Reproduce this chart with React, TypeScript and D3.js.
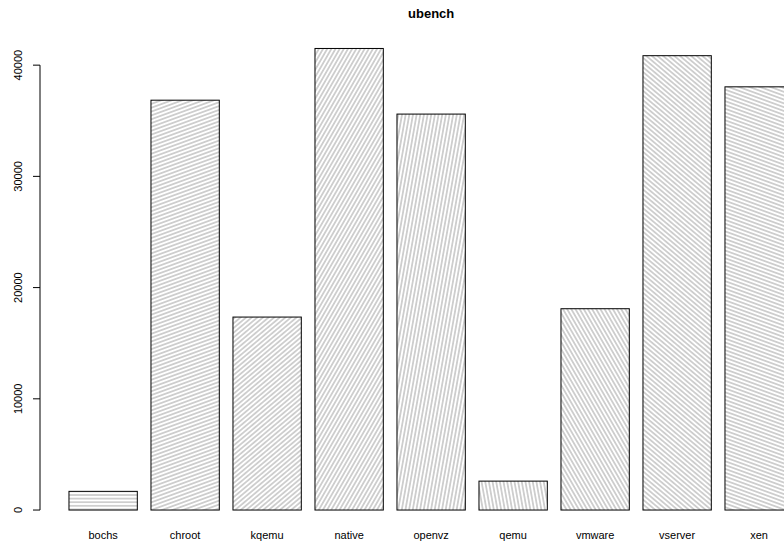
import React from "react";
import * as d3 from "d3";

const categories = ["bochs", "chroot", "kqemu", "native", "openvz", "qemu", "vmware", "vserver", "xen"];
const values = [1680, 36850, 17350, 41500, 35600, 2600, 18100, 40850, 38050];
const angles = [0, 20, 40, 60, 80, 100, 120, 140, 160];
const yTicks = [0, 10000, 20000, 30000, 40000];
const title = "ubench";

const W = 784;
const H = 545;

export default function App() {
  const n = categories.length;
  const space = 0.2;
  const xmin = space;
  const xmax = n * (1 + space);
  const xr = xmax - xmin;
  const ymax = d3.max(values) as number;
  const left = 40;
  const top = 30;
  const bottom = 528.5;
  const xu0 = xmin - 0.04 * xr;
  const xu1 = xmax + 0.04 * xr;
  const pxPerUnit = 82 / 1.2;
  const right = left + (xu1 - xu0) * pxPerUnit;
  const x = d3.scaleLinear().domain([xu0, xu1]).range([left, right]);
  const y = d3.scaleLinear().domain([-0.04 * ymax, ymax * 1.04]).range([bottom, top]);
  const spacing = 3.6;
  const font = "'Liberation Sans', Arial, Helvetica, sans-serif";

  return (
    <svg width={W} height={H} style={{ position: "absolute", left: 0, top: 0, background: "#fff" }}>
      <defs>
        {angles.map((a, i) => (
          <pattern
            key={i}
            id={`hatch${i}`}
            patternUnits="userSpaceOnUse"
            width={20}
            height={spacing}
            patternTransform={`rotate(${-a})`}
          >
            <line x1={-5} x2={25} y1={spacing / 2} y2={spacing / 2} stroke="#8a8a8a" strokeWidth={0.8} />
          </pattern>
        ))}
      </defs>
      <text x={(left + right) / 2} y={18} textAnchor="middle" fontFamily={font} fontWeight="bold" fontSize={13}>
        {title}
      </text>
      {values.map((v, i) => {
        const l = space + i * (1 + space);
        const r = l + 1;
        const x0 = x(l);
        const x1 = x(r);
        const y0 = y(0);
        const y1 = y(v);
        return (
          <g key={i}>
            <rect x={x0} y={y1} width={x1 - x0} height={y0 - y1} fill="#fff" />
            <rect x={x0} y={y1} width={x1 - x0} height={y0 - y1} fill={`url(#hatch${i})`} stroke="#000" strokeWidth={1} />
            <text x={(x0 + x1) / 2} y={539} textAnchor="middle" fontFamily={font} fontSize={11}>
              {categories[i]}
            </text>
          </g>
        );
      })}
      <line x1={left} x2={left} y1={y(0)} y2={y(40000)} stroke="#000" strokeWidth={1} />
      {yTicks.map((t) => (
        <g key={t}>
          <line x1={left - 7} x2={left} y1={y(t)} y2={y(t)} stroke="#000" strokeWidth={1} />
          <text
            transform={`translate(22,${y(t)}) rotate(-90)`}
            textAnchor="middle"
            fontFamily={font}
            fontSize={11}
          >
            {t}
          </text>
        </g>
      ))}
    </svg>
  );
}
